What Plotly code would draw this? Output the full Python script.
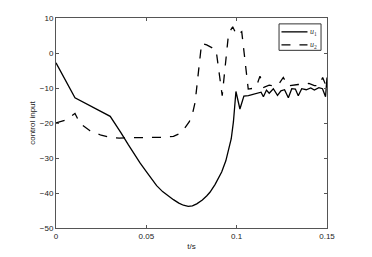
import plotly.graph_objects as go

t_u1 = [0, 0.0105, 0.03, 0.033, 0.036, 0.04, 0.043, 0.0465, 0.05, 0.053, 0.0557, 0.059,
        0.062, 0.065, 0.068, 0.0705, 0.0732, 0.0755, 0.0779, 0.081, 0.0835, 0.0852, 0.088,
        0.0917, 0.094, 0.0954, 0.097, 0.0982, 0.0996, 0.1018, 0.104, 0.1065, 0.109, 0.1115,
        0.1135, 0.1148, 0.1165, 0.118, 0.1203, 0.1226, 0.1245, 0.1265, 0.1286, 0.1305,
        0.1325, 0.1341, 0.136, 0.1385, 0.141, 0.143, 0.1455, 0.1475, 0.1492, 0.15]
u1 = [-2.8, -12.8, -18.1, -20.3, -22.8, -26.2, -28.7, -31.4, -33.9, -36.1, -37.9, -39.6,
      -40.8, -41.9, -42.9, -43.5, -43.8, -43.7, -43.1, -42, -40.8, -39.8, -37.6,
      -34, -30.8, -28.1, -24.5, -19.7, -11, -16, -12.3, -12.2, -11.8, -11.4,
      -11.2, -12.5, -10.6, -11.5, -10.2, -12.1, -10.8, -10.5, -12.8, -10.2,
      -10.3, -12.2, -10.2, -10.5, -10.0, -10.6, -9.9, -10.2, -12.5, -7]

t_u2 = [0, 0.005, 0.0105, 0.0133, 0.0188, 0.025, 0.0308, 0.035, 0.04, 0.05, 0.06, 0.065,
        0.068, 0.0705, 0.0737, 0.0755, 0.077, 0.0788, 0.0806, 0.0834, 0.0886, 0.092,
        0.0955, 0.0978, 0.1, 0.1028, 0.1064, 0.109, 0.111, 0.1129, 0.115, 0.118, 0.1203,
        0.123, 0.1258, 0.1285, 0.131, 0.134, 0.137, 0.14, 0.143, 0.1455, 0.1476, 0.1495,
        0.15]
u2 = [-20, -19.2, -17.3, -20.1, -22.2, -23.5, -24.2, -24.3, -24.2, -24.2, -24.1, -23.8,
      -23.1, -22, -19.7, -17.5, -14.1, -5.6, 2.8, 2.3, 0.9, -12.2,
      5.5, 7.5, 5.1, 6.1, -10.3, -10.1, -9.4, -6.6, -9.8, -9.2, -9.4,
      -9.1, -7, -9.4, -9.2, -9.0, -9.0, -8.7, -9.3, -9.3, -7, -9.4,
      -7.5]

x_ticks = [0, 0.05, 0.1, 0.15]
x_tick_labels = ["0", "0.05", "0.1", "0.15"]
y_ticks = [-50, -40, -30, -20, -10, 0, 10]
legend_labels = ["<i>u</i><sub>1</sub>", "<i>u</i><sub>2</sub>"]

FONT = "Liberation Sans"
AX = "#555555"

fig = go.Figure()
fig.add_trace(go.Scatter(x=t_u1, y=u1, mode="lines", name=legend_labels[0],
                         line=dict(color="black", width=1.3)))
fig.add_trace(go.Scatter(x=t_u2, y=u2, mode="lines", name=legend_labels[1],
                         line=dict(color="black", width=1.3, dash="dash")))

axis_common = dict(showgrid=False, zeroline=False, showline=True, mirror="ticks",
                   linecolor=AX, linewidth=1, ticks="inside", ticklen=3,
                   tickcolor=AX, tickfont=dict(size=8, color="#222222", family=FONT))
fig.update_xaxes(range=[0, 0.15], tickvals=x_ticks, ticktext=x_tick_labels,
                 title=dict(text="t/s", font=dict(size=8, family=FONT, color="#222222"),
                            standoff=3), **axis_common)
fig.update_yaxes(range=[-50, 10], tickvals=y_ticks,
                 title=dict(text="control input", font=dict(size=8, family=FONT, color="#222222"),
                            standoff=3), **axis_common)

# manual legend box (MATLAB style)
fig.add_shape(type="rect", xref="x domain", yref="y domain",
              x0=0.823, x1=0.978, y0=0.846, y1=0.972,
              line=dict(color="#333333", width=1), fillcolor="white", layer="above")
for i, (lab, dash) in enumerate(zip(legend_labels, ["solid", "dash"])):
    yy = 0.934 - i * 0.062
    fig.add_shape(type="line", xref="x domain", yref="y domain",
                  x0=0.832, x1=0.928, y0=yy, y1=yy,
                  line=dict(color="black", width=1.3, dash=dash), layer="above")
    fig.add_annotation(xref="x domain", yref="y domain", x=0.930, y=yy,
                       text=lab, showarrow=False, xanchor="left", yanchor="middle",
                       font=dict(size=8, family="Liberation Serif", color="#333333"))

fig.update_layout(
    width=364, height=249,
    margin=dict(l=48, r=45, t=6, b=29),
    paper_bgcolor="white", plot_bgcolor="white",
    showlegend=False,
)

fig.write_html("out.html")
